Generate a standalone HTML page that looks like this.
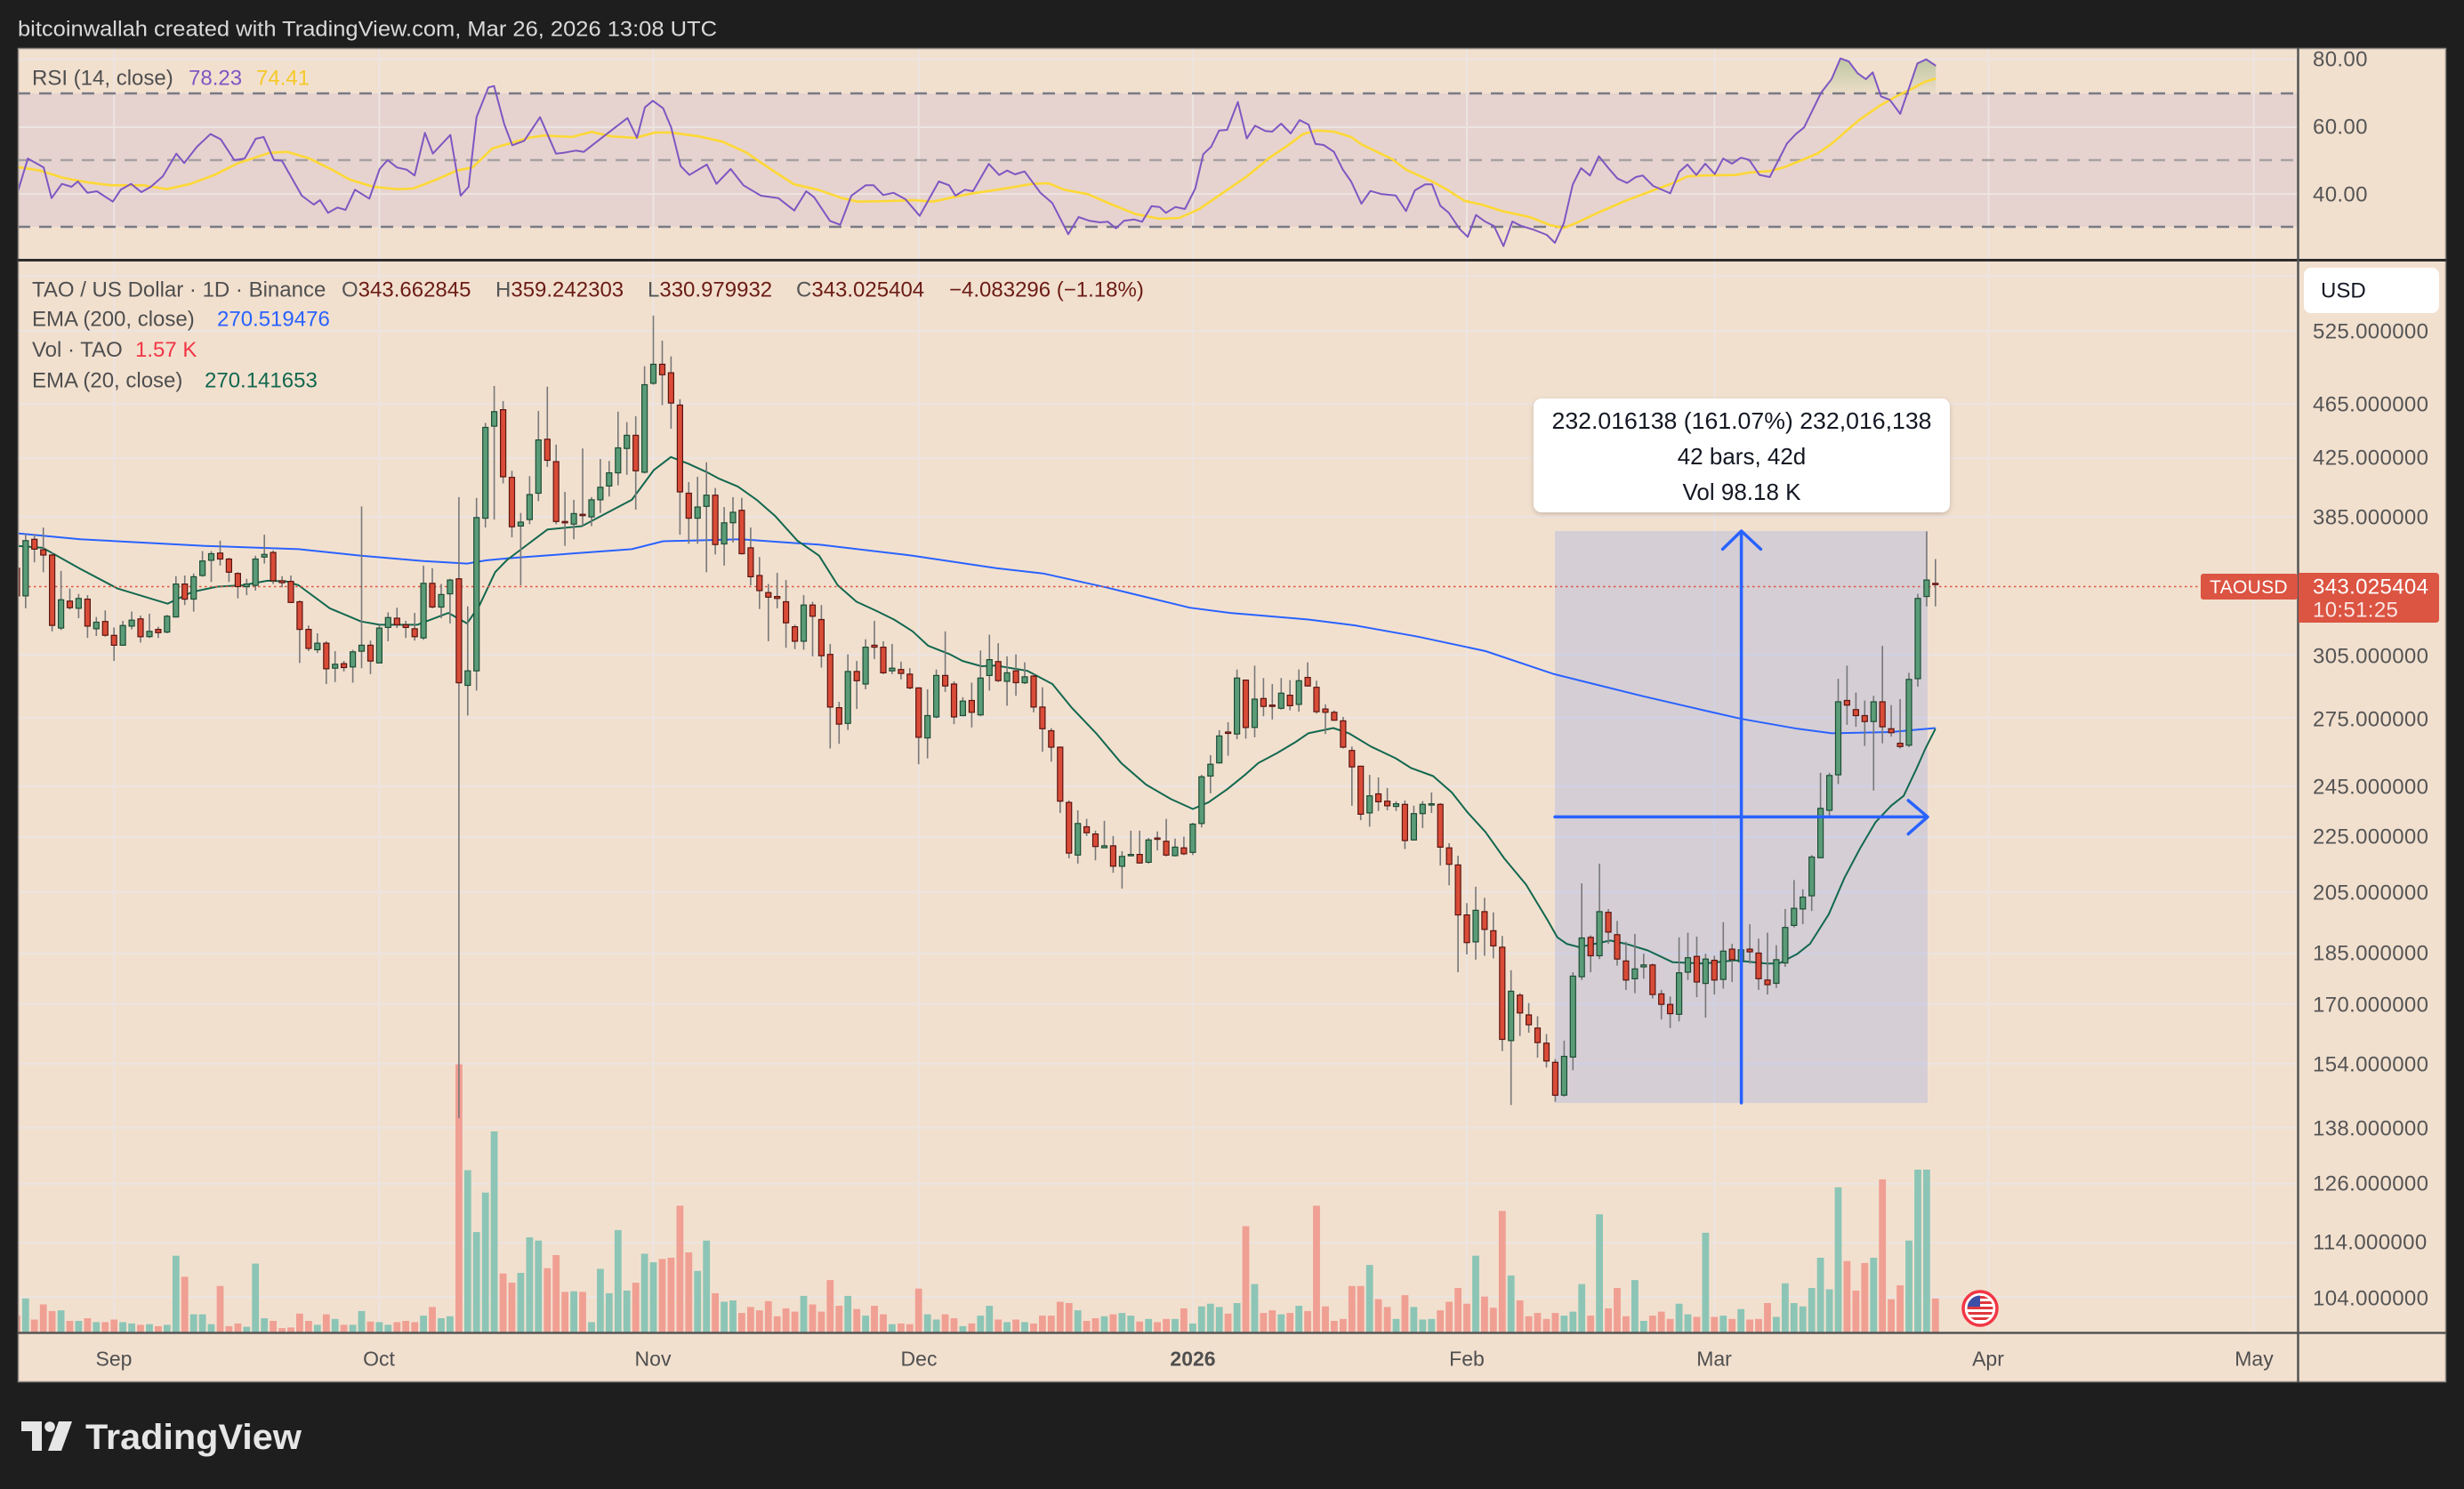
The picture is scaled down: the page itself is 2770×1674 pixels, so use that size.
<!DOCTYPE html>
<html><head><meta charset="utf-8"><title>TAOUSD chart</title>
<style>
html,body{margin:0;padding:0;background:#1e1e1e;}
svg{display:block;}
text{font-family:"Liberation Sans",Arial,sans-serif;}
</style></head>
<body>
<svg id="c" width="2770" height="1674" viewBox="0 0 2770 1674" xmlns="http://www.w3.org/2000/svg">
<defs>
<clipPath id="mainClip"><rect x="20" y="293" width="2563" height="1205"/></clipPath>
<clipPath id="rsiClip"><rect x="20" y="54" width="2563" height="238"/></clipPath>
<linearGradient id="gf" x1="0" y1="60" x2="0" y2="105" gradientUnits="userSpaceOnUse">
<stop offset="0" stop-color="#4c8f3a" stop-opacity="0.35"/>
<stop offset="1" stop-color="#4c8f3a" stop-opacity="0.04"/>
</linearGradient>
<filter id="sh" x="-10%" y="-20%" width="120%" height="150%"><feDropShadow dx="0" dy="2" stdDeviation="3" flood-color="#000" flood-opacity="0.18"/></filter>
<clipPath id="fc"><circle cx="2226" cy="1471" r="14.5"/></clipPath>
</defs>
<rect width="2770" height="1674" fill="#1e1e1e"/>
<text x="20" y="40.5" fill="#d9d9d9" font-size="24" textLength="786" lengthAdjust="spacingAndGlyphs">bitcoinwallah created with TradingView.com, Mar 26, 2026 13:08 UTC</text>

<!-- chart background -->
<rect x="20" y="54" width="2730" height="1500" fill="#f2e0cf"/>
<!-- RSI band -->
<rect x="20" y="105" width="2563" height="150" fill="#e6d3cf"/>

<!-- grid -->
<g stroke="#ece4e1" stroke-width="2">
<line x1="20" y1="66.7" x2="2583" y2="66.7"/>
<line x1="20" y1="143" x2="2583" y2="143"/>
<line x1="20" y1="218" x2="2583" y2="218"/>
<line x1="20" y1="310" x2="2583" y2="310"/>
<line x1="20" y1="372" x2="2583" y2="372"/>
<line x1="20" y1="454" x2="2583" y2="454"/>
<line x1="20" y1="515" x2="2583" y2="515"/>
<line x1="20" y1="581" x2="2583" y2="581"/>
<line x1="20" y1="736" x2="2583" y2="736"/>
<line x1="20" y1="807" x2="2583" y2="807"/>
<line x1="20" y1="884" x2="2583" y2="884"/>
<line x1="20" y1="941" x2="2583" y2="941"/>
<line x1="20" y1="1003" x2="2583" y2="1003"/>
<line x1="20" y1="1072" x2="2583" y2="1072"/>
<line x1="20" y1="1129" x2="2583" y2="1129"/>
<line x1="20" y1="1196" x2="2583" y2="1196"/>
<line x1="20" y1="1268" x2="2583" y2="1268"/>
<line x1="20" y1="1331" x2="2583" y2="1331"/>
<line x1="20" y1="1397" x2="2583" y2="1397"/>
<line x1="20" y1="1458" x2="2583" y2="1458"/>
<line x1="128.2" y1="54" x2="128.2" y2="1498"/>
<line x1="426.4" y1="54" x2="426.4" y2="1498"/>
<line x1="734.5" y1="54" x2="734.5" y2="1498"/>
<line x1="1032.7" y1="54" x2="1032.7" y2="1498"/>
<line x1="1340.9" y1="54" x2="1340.9" y2="1498"/>
<line x1="1649" y1="54" x2="1649" y2="1498"/>
<line x1="1927.3" y1="54" x2="1927.3" y2="1498"/>
<line x1="2235.5" y1="54" x2="2235.5" y2="1498"/>
<line x1="2533.7" y1="54" x2="2533.7" y2="1498"/>
</g>

<!-- RSI pane -->
<g clip-path="url(#rsiClip)">
<line x1="20" y1="105" x2="2583" y2="105" stroke="#787b86" stroke-width="2.5" stroke-dasharray="14 10"/>
<line x1="20" y1="180" x2="2583" y2="180" stroke="#a6a1a1" stroke-width="2.5" stroke-dasharray="14 10"/>
<line x1="20" y1="255" x2="2583" y2="255" stroke="#787b86" stroke-width="2.5" stroke-dasharray="14 10"/>
<polygon fill="url(#gf)" points="2047,105 2047.4,104 2059,89 2069,65.7 2078.3,69 2088.3,82.3 2097.6,89 2105.3,81.3 2113.5,105"/>
<polygon fill="url(#gf)" points="2143.8,105 2155.5,71.3 2165.5,66.7 2176.3,74 2176.3,105"/>
<polyline fill="none" stroke="#fdd835" stroke-width="2.6" stroke-linejoin="round" points="19.6,187.7 44.6,191.7 71.4,200 98.2,205 125,208.3 160.7,208.3 187.5,212.7 214.3,206.7 241.1,196.7 267.9,183.3 303.6,171.7 323.2,170.7 348.2,178.3 375,191.7 392.9,201.7 419.6,210 446.4,212.7 464.3,212 491.1,201.7 513.4,191.7 531.3,188.3 553.6,166.7 571.4,161.7 593.8,155 611.6,152.3 642.9,154 665.2,148.3 687.5,153.3 714.3,155 736.6,149 754.5,149 785.7,153.3 812.5,159.3 839.3,171.7 866.1,190 892.9,207.3 919.6,213.3 946.4,222.7 964.3,226.7 1000,226 1026.8,225 1049.1,226.7 1071.4,221.7 1093.8,217.3 1125,212.7 1160.7,206.7 1178.6,206 1196.4,213.3 1223.2,218.3 1250,230 1276.8,240.7 1303.6,246 1325.9,245 1348.2,235 1375,216.7 1403.1,197.3 1426.3,178 1449.4,162.3 1464.9,150.7 1480.3,146.7 1499.6,148 1518.9,154 1530.5,162.3 1545.9,169.7 1565.2,179 1580.6,190.7 1611.5,204.7 1626.9,213.3 1646.2,225.7 1665.5,230 1688.6,237.3 1719.5,244 1742.7,253 1758.1,256.3 1773.5,250 1796.7,239 1827.5,225.7 1858.4,214 1881.5,205.7 1897,198.3 1912.4,197.3 1951,196.7 1966.4,194 1989.6,192.3 2005,188.3 2028.1,179 2043.6,172.3 2059,161.7 2074.4,148.3 2089.9,135 2113,119 2132.3,108 2147.7,100.7 2163.2,92.3 2176.3,88.3"/>
<polyline fill="none" stroke="#7e57c2" stroke-width="2" stroke-linejoin="round" points="19.6,216.7 31.3,178.3 49.1,188.3 58,222.7 69.6,206.7 80.4,210 87.5,204 98.2,216.7 108.9,215 126.8,226.7 135.7,213.3 147.3,206.7 158.9,216 169.6,210 183,198.3 198.2,172.7 207.1,183.3 221.4,165 236.6,150.7 248.2,156.7 263.4,180 275,178.3 287.5,156 296.4,154 308,180 317,180.7 339.3,220 352.7,230 359.8,225 368.8,239.3 379.5,233.3 388.4,236 399.1,213.3 415.2,223.3 426.8,190 435.7,180 446.4,188.3 457.1,190.7 466.1,197.3 477.7,149.3 486.6,172.7 506.3,151.7 517.9,220 526.8,210 535.7,131.7 549.1,98.3 555.4,96.7 567,140 575.9,163.3 589.3,158.3 607.1,131.7 625,172.7 633.9,171.7 647.3,169.3 656.3,170.7 678.6,153.3 705.4,132.7 716.1,155 725,120.7 733.9,113.3 745.5,121.7 754.5,143.3 765.2,186.7 775,196.7 794.6,185 805.4,206.7 821.4,190 835.7,208.3 855.4,220 875,222.7 892.9,236.7 906.3,215 915.2,221.7 933,248.3 944.6,252.7 957.1,220 973.2,208.3 982.1,208.3 992.9,219.3 1004.5,216.7 1017.9,224 1033.9,242.7 1055.4,204 1067,208.3 1074.1,220 1084.8,213.3 1093.8,215 1111.6,184.3 1123.2,196.7 1132.1,191.7 1141.1,196 1151.8,192.7 1169.6,216.7 1183,228.3 1200.9,263.3 1212.5,244 1225,248.3 1236.6,250 1245.5,249.3 1254.5,256.7 1263.4,248.3 1275,246.7 1283.9,249.3 1294.6,231.7 1303.6,232.7 1310.7,239.3 1321.4,232.7 1332.1,235 1343.8,211.7 1352.7,173.3 1361.6,165 1370.5,146.7 1379.5,146 1391.6,114.7 1401.6,155.7 1410.9,141.3 1422.4,147.3 1430.2,148 1440.2,139 1451,150 1461,135 1471,140 1478.8,161.7 1488,163 1499.6,170.7 1509.6,190.7 1518.9,204 1530.5,229 1540.5,214.7 1553.6,218.3 1569,219.7 1580.6,237.3 1590.6,214 1602.2,207.3 1609.9,207.3 1619.2,231.3 1628.5,239 1640.8,257.3 1650,266.3 1659.3,241.7 1669.4,249 1679.4,254 1690.2,276.7 1700.2,249 1710.2,254 1723.4,258 1738.8,264 1748,273 1758.1,250.7 1768.1,207.3 1777.4,189 1787.4,197.3 1797.4,175.7 1808.2,189 1818.3,200.7 1829.1,205.7 1839.1,199 1846.8,197.3 1858.4,209 1870,214 1877.7,217.3 1887.7,193.3 1897,185 1907,196.7 1917,184 1927.8,195.7 1937.1,178.3 1947.1,184 1957.2,177.3 1966.4,179.7 1978,196.7 1989.6,199 1997.3,184 2008.9,161.3 2018.9,150.7 2028.1,143.3 2047.4,104 2059,89 2069,65.7 2078.3,69 2088.3,82.3 2097.6,89 2105.3,81.3 2114.6,108.3 2124.6,112.3 2136.2,128 2155.5,71.3 2165.5,66.7 2176.3,74"/>
</g>

<!-- Main pane -->
<g clip-path="url(#mainClip)">
<g id="vol"></g>
<rect x="1748" y="597" width="419" height="643" fill="#2962ff" fill-opacity="0.14"/>
<polyline fill="none" stroke="#2962ff" stroke-width="2" points="20,599.6 90.2,606.3 230.5,613.7 335.7,617.4 405.9,624.7 476,630.7 525.1,633.6 546.2,630 570,627.7 710.3,617.4 745.4,608.5 833.1,606.3 885.7,610 920.8,612.2 1026,624.7 1120,638.8 1172.6,644.7 1242.8,660.2 1337.5,683.2 1383.1,689.1 1470.8,696.5 1523.4,703.1 1593.6,715.7 1670,732 1747.2,757.9 1845.4,782.3 1915.6,798.6 1957.7,808.2 2020.8,819.3 2059.4,824.4 2126,823 2175.8,818.5"/>
<polyline fill="none" stroke="#12684f" stroke-width="2" stroke-linejoin="round" points="20,613.7 48.1,615.9 90.2,639.5 132.3,661.7 188.4,678.7 216.4,665.4 244.5,659.5 272.6,658 300.6,652.9 321.7,653.6 335.7,658 370.8,683.9 405.9,698.7 426.9,702.4 469,702.4 504.1,689.1 525.1,700.9 539.2,680.2 556.7,643.2 570,629.5 615.6,595.2 654.2,591.5 675.2,580.4 710.3,561.9 734.9,528.6 754.2,513.8 773.5,521.2 794.5,530.8 808.5,538.2 829.6,547.1 850.6,561.9 871.7,580.4 896.2,607.7 920.8,624.7 941.8,658 962.9,676.5 983.9,686.1 1005,696.5 1026,709.8 1043.6,726.1 1068.1,735.7 1082.2,743.1 1103.2,749 1120,748.3 1155.1,754.2 1183.1,769 1204.2,794.9 1232.3,824.4 1260.3,857.7 1288.4,882.1 1316.4,898.4 1341,909.5 1358.5,902.1 1379.6,887.3 1400.6,870.3 1414.7,857.7 1435.7,846.6 1456.8,834 1470.8,824.4 1498.9,818.5 1516.4,824.4 1541,839.2 1569,852.5 1586.6,863.6 1611.1,872.5 1632.2,891 1649.7,913.2 1670,935.4 1691,965 1715.6,994.5 1740.2,1035.2 1750.7,1053.7 1761.2,1061.1 1775.2,1064.8 1792.8,1061.1 1810.3,1057.4 1827.9,1061.1 1852.4,1068.5 1880.5,1081.8 1915.6,1083.3 1950.6,1079.6 1985.7,1083.3 1999.8,1083.3 2020.8,1072.2 2034.8,1061.1 2055.9,1027.8 2073.4,987.2 2091,953.9 2108.5,924.3 2126,905.8 2140.1,894.7 2154.1,865.1 2164.6,841.4 2175.8,819.3"/>
<line x1="20" y1="659.5" x2="2583" y2="659.5" stroke="#e0533f" stroke-width="1.6" stroke-dasharray="2.5 3.5"/>
<g id="wicks" stroke="#787878" stroke-width="1.6"></g>
<g id="bodies" stroke-width="1.2"></g>
<!-- measure arrows -->
<g stroke="#2962ff" stroke-width="3.5" fill="none" stroke-linecap="round" stroke-linejoin="round">
<line x1="1957.6" y1="598" x2="1957.6" y2="1240"/>
<line x1="1748" y1="918.4" x2="2166" y2="918.4"/>
<polyline points="1936.6,617.4 1957.6,597 1979.4,617.4"/>
<polyline points="2145.3,899.9 2167,918.4 2145.3,937.6"/>
</g>
</g>

<!-- tooltip -->
<rect x="1724" y="448" width="468" height="128" rx="9" fill="#ffffff" filter="url(#sh)"/>
<g fill="#131722" font-size="26" text-anchor="middle">
<text x="1958" y="482" textLength="427" lengthAdjust="spacingAndGlyphs">232.016138 (161.07%) 232,016,138</text>
<text x="1958" y="522">42 bars, 42d</text>
<text x="1958" y="562">Vol 98.18 K</text>
</g>

<!-- US flag icon -->
<circle cx="2226" cy="1471" r="19" fill="#ffffff" stroke="#f23645" stroke-width="3.5"/>
<g clip-path="url(#fc)">
<rect x="2210" y="1455" width="32" height="32" fill="#ffffff"/>
<rect x="2210" y="1457" width="32" height="3" fill="#e0383e"/>
<rect x="2210" y="1463" width="32" height="3" fill="#e0383e"/>
<rect x="2210" y="1469" width="32" height="3" fill="#e0383e"/>
<rect x="2210" y="1475" width="32" height="3" fill="#e0383e"/>
<rect x="2210" y="1481" width="32" height="3" fill="#e0383e"/>
<rect x="2210" y="1455" width="16" height="14" fill="#3c4fa8"/>
</g>

<!-- legends -->
<g font-size="24">
<text x="36" y="95.6" fill="#4f4f4f">RSI (14, close)</text>
<text x="212" y="95.6" fill="#7e57c2">78.23</text>
<text x="288" y="95.6" fill="#f5c928">74.41</text>

<text x="36" y="333.6" fill="#4f4f4f">TAO / US Dollar · 1D · Binance</text>
<text x="384" y="333.6"><tspan fill="#555">O</tspan><tspan fill="#6b1c15">343.662845</tspan></text>
<text x="557" y="333.6"><tspan fill="#555">H</tspan><tspan fill="#6b1c15">359.242303</tspan></text>
<text x="728" y="333.6"><tspan fill="#555">L</tspan><tspan fill="#6b1c15">330.979932</tspan></text>
<text x="895" y="333.6"><tspan fill="#555">C</tspan><tspan fill="#6b1c15">343.025404</tspan></text>
<text x="1067" y="333.6" fill="#6b1c15">−4.083296 (−1.18%)</text>

<text x="36" y="366.5" fill="#4f4f4f">EMA (200, close)</text>
<text x="244" y="366.5" fill="#2962ff">270.519476</text>
<text x="36" y="401" fill="#4f4f4f">Vol · TAO</text>
<text x="152" y="401" fill="#f23645">1.57 K</text>
<text x="36" y="435.5" fill="#4f4f4f">EMA (20, close)</text>
<text x="230" y="435.5" fill="#12684f">270.141653</text>
</g>

<!-- separators / borders -->
<line x1="20" y1="54.5" x2="2750" y2="54.5" stroke="#8a8480" stroke-width="1.5"/>
<line x1="20.5" y1="54" x2="20.5" y2="1554" stroke="#8a8480" stroke-width="1.5"/>
<line x1="2749.5" y1="54" x2="2749.5" y2="1554" stroke="#8a8480" stroke-width="1.5"/>
<line x1="20" y1="1553.5" x2="2750" y2="1553.5" stroke="#8a8480" stroke-width="1.5"/>
<line x1="20" y1="292.5" x2="2750" y2="292.5" stroke="#2e2e2e" stroke-width="3"/>
<line x1="20" y1="1498.5" x2="2750" y2="1498.5" stroke="#555" stroke-width="2.5"/>
<line x1="2583.5" y1="54" x2="2583.5" y2="1554" stroke="#555" stroke-width="2.5"/>

<!-- RSI axis -->
<g font-size="24" fill="#555" letter-spacing="0.35">
<text x="2600" y="74.6">80.00</text>
<text x="2600" y="150.6">60.00</text>
<text x="2600" y="226.6">40.00</text>
</g>

<!-- USD box -->
<rect x="2590" y="301" width="152" height="51" rx="8" fill="#ffffff"/>
<text x="2609" y="334.6" font-size="24" fill="#131722">USD</text>

<!-- price axis -->
<g font-size="24" fill="#555" letter-spacing="0.35">
<text x="2600" y="380.6">525.000000</text>
<text x="2600" y="462.6">465.000000</text>
<text x="2600" y="522.6">425.000000</text>
<text x="2600" y="589.6">385.000000</text>
<text x="2600" y="745.6">305.000000</text>
<text x="2600" y="816.6">275.000000</text>
<text x="2600" y="892.6">245.000000</text>
<text x="2600" y="948.6">225.000000</text>
<text x="2600" y="1011.6">205.000000</text>
<text x="2600" y="1079.6">185.000000</text>
<text x="2600" y="1137.6">170.000000</text>
<text x="2600" y="1204.6">154.000000</text>
<text x="2600" y="1276.6">138.000000</text>
<text x="2600" y="1338.6">126.000000</text>
<text x="2600" y="1404.6">114.000000</text>
<text x="2600" y="1467.6">104.000000</text>
</g>

<!-- current price labels -->
<rect x="2474" y="645" width="109" height="29" rx="3" fill="#dc5442"/>
<text x="2528" y="667" font-size="21" fill="#ffffff" text-anchor="middle" letter-spacing="0.3">TAOUSD</text>
<path d="M2584 644 H2738 Q2742 644 2742 648 V696 Q2742 700 2738 700 H2584 Z" fill="#dc5442"/>
<text x="2600" y="667.6" font-size="24" fill="#ffffff" letter-spacing="0.35">343.025404</text>
<text x="2600" y="693.6" font-size="24" fill="#ffffff" fill-opacity="0.85" letter-spacing="0.35">10:51:25</text>

<!-- time axis -->
<g font-size="23" fill="#4f4f4f" text-anchor="middle">
<text x="128" y="1535.3">Sep</text>
<text x="426" y="1535.3">Oct</text>
<text x="734" y="1535.3">Nov</text>
<text x="1033" y="1535.3">Dec</text>
<text x="1341" y="1535.3" font-weight="bold">2026</text>
<text x="1649" y="1535.3">Feb</text>
<text x="1927" y="1535.3">Mar</text>
<text x="2235" y="1535.3">Apr</text>
<text x="2534" y="1535.3">May</text>
</g>

<!-- TradingView logo -->
<g fill="#e6e6e6">
<path d="M24 1598 H47 V1631 H36 V1609 H24 Z"/>
<circle cx="56" cy="1604" r="5.8"/>
<path d="M66 1598 H81 L69 1631 H54 Z"/>
</g>
<text x="96" y="1629" font-size="40" font-weight="bold" fill="#e6e6e6" textLength="243" lengthAdjust="spacingAndGlyphs">TradingView</text>
</svg>
<script>
(function(){
var D=[
[404,446,395,460,0,1540],
[362,446,352,465,1,1514],[360,375,352,395,0,1546],[376,384,342,410,0,1523],[384,491,380,500,0,1533],[452,495,408,498,1,1532],
[454,464,435,467,0,1548],[450,465,443,480,1,1548],[451,492,445,510,0,1544],[486,496,478,507,1,1550],[485,506,468,508,0,1550],
[506,521,494,545,0,1546],[491,521,484,522,1,1550],[483,492,470,497,1,1552],[481,508,476,517,0,1554],[500,508,473,510,1,1553],
[497,502,493,510,0,1556],[477,501,475,503,1,1554],[428,478,416,479,1,1449],[428,451,415,460,0,1481],[417,451,412,470,1,1538],
[393,415,378,417,1,1538],[382,392,378,425,1,1553],[381,390,362,400,0,1495],[390,410,388,425,0,1556],[412,432,410,450,0,1552],
[428,432,420,445,1,1557],[390,430,385,438,1,1461],[383,387,353,397,1,1544],[380,423,377,428,0,1548],[423,426,416,433,0,1559],
[424,456,415,457,0,1558],[455,497,453,548,0,1537],[497,526,491,530,0,1548],[518,528,503,533,1,1554],[518,557,515,580,0,1538],
[550,556,530,577,1,1545],[549,555,545,561,0,1554],[531,554,528,578,1,1554],[521,530,310,556,1,1533],[521,545,514,565,0,1549],
[495,548,490,548,1,1550],[479,494,471,515,1,1554],[480,490,464,495,0,1550],[490,494,484,510,0,1548],[496,508,472,514,0,1550],
[427,510,400,513,1,1540],[427,463,404,465,0,1527],[444,463,428,480,1,1544],[422,443,420,488,1,1541],[420,578,296,1240,0,1158],
[560,582,462,628,1,1319],[327,560,297,590,1,1413],[190,328,183,342,1,1353],[166,188,127,330,1,1260],[163,265,150,275,0,1476],
[266,341,256,357,0,1490],[334,340,320,430,1,1475],[292,330,264,337,1,1421],[209,290,165,302,1,1426],[208,240,128,250,0,1468],
[242,333,216,337,0,1448],[333,335,288,370,0,1504],[321,337,300,360,1,1503],[322,324,222,340,0,1504],[300,326,296,340,1,1550],
[281,300,238,320,1,1469],[259,279,241,295,1,1506],[221,259,166,278,1,1410],[202,222,182,262,1,1502],[202,256,173,315,0,1490],
[125,258,97,260,1,1446],[94,123,20,125,1,1459],[94,110,58,156,0,1454],[107,153,82,192,0,1452],[156,288,147,353,0,1373],
[290,328,273,367,0,1444],[311,328,265,367,1,1472],[293,310,243,410,1,1426],[293,368,282,383,0,1506],[335,367,311,400,1,1519],
[319,335,296,365,1,1517],[316,382,297,383,0,1536],[373,417,342,430,0,1527],[415,438,387,466,0,1532],[441,448,428,515,0,1518],
[447,450,411,465,0,1541],[455,487,422,525,0,1529],[493,515,490,527,0,1534],[460,515,445,528,1,1510],[460,477,455,538,0,1523],
[482,537,460,555,0,1534],[535,615,519,678,0,1486],[616,641,607,671,0,1525],[561,640,535,650,1,1510],[561,575,545,618,0,1530],
[524,580,512,588,1,1540],[521,524,484,542,0,1525],[524,563,515,565,0,1538],[556,560,519,565,1,1553],[558,564,546,573,0,1552],
[565,586,556,588,0,1553],[586,661,585,702,0,1499],[628,662,588,693,1,1538],[567,630,558,632,1,1546],[567,583,500,592,0,1538],
[580,630,576,641,0,1544],[606,628,600,629,1,1556],[605,623,578,646,0,1552],[571,627,529,629,1,1540],[543,567,505,590,1,1525],
[546,575,518,577,0,1546],[563,576,538,613,1,1550],[560,578,535,598,0,1546],[569,578,547,580,1,1550],[568,615,565,623,0,1552],
[615,648,585,683,0,1540],[651,676,647,698,0,1540],[676,758,675,776,0,1519],[760,837,757,845,0,1521],[792,840,772,853,1,1532],
[797,806,785,811,0,1548],[808,827,803,848,0,1544],[826,829,788,829,1,1541],[826,857,811,867,0,1538],[842,857,834,891,1,1536],
[839,841,803,842,1,1540],[839,852,803,853,0,1549],[817,851,814,853,1,1545],[814,816,804,833,0,1550],[819,840,785,842,0,1545],
[828,841,815,842,1,1545],[829,838,812,840,0,1529],[793,836,791,840,1,1552],[721,792,718,798,1,1526],[702,720,688,746,1,1522],
[659,700,650,701,1,1527],[653,655,638,689,0,1537],[571,656,558,664,1,1521],[574,646,574,663,0,1404],[603,646,552,661,1,1492],
[602,614,571,629,0,1536],[612,614,580,634,0,1532],[594,617,571,619,1,1538],[597,613,574,620,0,1536],[575,611,558,622,1,1525],
[570,583,547,584,0,1533],[585,622,575,625,0,1373],[618,623,611,656,0,1526],[623,635,620,636,0,1548],[636,676,630,678,0,1545],
[681,706,675,765,0,1495],[705,778,705,787,0,1495],[750,776,718,797,1,1463],[747,759,722,773,0,1515],[758,765,738,772,0,1527],
[762,766,758,773,1,1545],[763,818,757,831,0,1509],[777,817,765,818,1,1527],[763,777,758,799,1,1546],[762,764,745,776,1,1545],
[763,828,761,856,0,1532],[829,854,822,886,0,1519],[855,931,841,1018,0,1498],[931,973,913,991,0,1522],[924,972,888,999,1,1449],
[926,953,905,993,0,1511],[955,978,927,997,0,1528],[980,1120,963,1138,0,1381],[1047,1122,1015,1220,1,1479],[1053,1080,1050,1115,0,1517],
[1083,1098,1065,1110,0,1541],[1103,1125,1085,1148,0,1536],[1126,1153,1112,1163,0,1545],[1155,1205,1150,1215,0,1536],[1146,1205,1122,1207,1,1540],
[1024,1147,1018,1167,1,1534],[966,1025,883,1030,1,1492],[965,993,962,1018,0,1540],[926,993,853,998,1,1386],[927,957,922,975,0,1529],
[961,998,940,1008,0,1498],[1001,1030,972,1045,0,1541],[1013,1028,960,1050,1,1486],[1007,1010,990,1028,1,1548],[1007,1052,1005,1058,0,1540],
[1051,1067,1045,1090,0,1534],[1067,1081,1055,1103,0,1545],[1019,1082,965,1093,1,1522],[996,1018,958,1030,1,1538],[994,1033,964,1056,0,1542],
[998,1035,990,1087,1,1414],[1000,1030,993,1052,0,1542],[986,1029,942,1043,1,1540],[983,999,975,1033,0,1545],[984,1002,938,1025,1,1530],
[983,987,945,1005,0,1546],[989,1028,967,1045,0,1545],[1030,1037,958,1052,0,1521],[999,1035,977,1042,1,1542],[950,1004,922,1010,1,1491],
[921,947,878,950,1,1521],[904,922,892,945,1,1526],[843,902,840,925,1,1498],[769,844,715,845,1,1452],[719,772,715,784,1,1500],
[607,718,572,732,1,1345],[605,612,552,642,0,1457],[619,628,593,645,0,1502],[628,637,605,674,0,1460],[607,637,598,742,1,1452],
[607,645,522,670,0,1333],[648,654,612,660,0,1515],[670,675,603,678,0,1494],[573,673,563,676,1,1426],[450,572,443,584,1,1318],
[422,447,348,462,1,1318],[427,429,390,462,0,1514]
];
function Y(z){return 340+z/1.352;}
var vol='',wk='',bd='';
for(var i=0;i<D.length;i++){
  var d=D[i],k=i-1,x=28.8+9.94*k,g=(d[4]===1);
  var yt=Y(d[0]),yb=Y(d[1]),ht=Y(d[2]),lb=Y(d[3]),vy=Y(d[5]);
  vol+='<rect x="'+(x-3.9).toFixed(1)+'" y="'+vy.toFixed(1)+'" width="7.8" height="'+(1497.5-vy).toFixed(1)+'" fill="'+(g?'#8cc5b5':'#f09f93')+'"/>';
  wk+='<line x1="'+x.toFixed(1)+'" y1="'+ht.toFixed(1)+'" x2="'+x.toFixed(1)+'" y2="'+lb.toFixed(1)+'"/>';
  var h=Math.max(yb-yt,1.2);
  bd+='<rect x="'+(x-3).toFixed(1)+'" y="'+yt.toFixed(1)+'" width="6" height="'+h.toFixed(1)+'" fill="'+(g?'#5b9c78':'#d94c38')+'" stroke="'+(g?'#1d4d35':'#5a1510')+'"/>';
}
document.getElementById('vol').innerHTML=vol;
document.getElementById('wicks').innerHTML=wk;
document.getElementById('bodies').innerHTML=bd;
})();
</script>
</body></html>
